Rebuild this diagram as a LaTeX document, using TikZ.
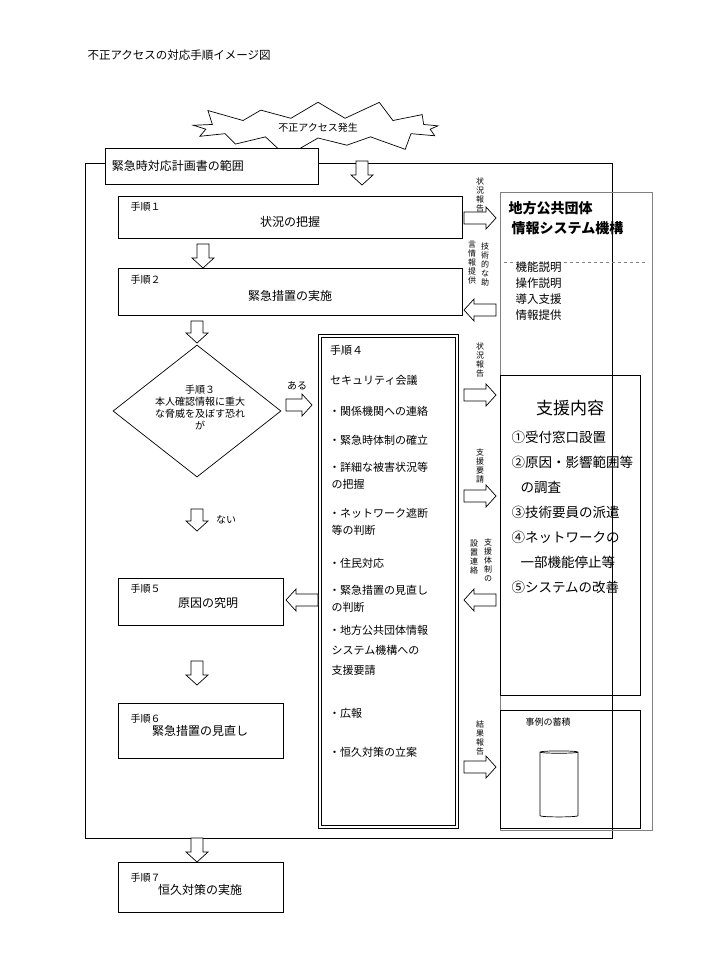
\documentclass[tikz,border=0pt]{standalone}
\usepackage{fontspec}
\setmainfont{Noto Sans CJK JP}
\usetikzlibrary{shapes.geometric,shapes.symbols}
\newcommand\barrow[5]{% name, x, y, angle, length
 \begin{scope}[shift={(#2,#3)},rotate=#4]
 \coordinate (#1) at (0,0);
 \draw[line width=0.7pt,fill=white] (-#5/2,-6) -- (#5/2-10,-6) -- (#5/2-10,-11) -- (#5/2,0) -- (#5/2-10,11) -- (#5/2-10,6) -- (-#5/2,6) -- cycle;
 \end{scope}}
\begin{document}
\begin{tikzpicture}[x=1pt,y=-1pt,
 box/.style={draw,line width=0.7pt},
 small/.style={font=\fontsize{10}{12}\selectfont},
 body/.style={font=\fontsize{12}{14}\selectfont},
 vt/.style={font=\fontsize{8}{9}\selectfont,align=center,inner sep=0pt},
 lst/.style={font=\fontsize{11}{17.5}\selectfont,anchor=west,align=left,inner sep=0pt}]
\useasboundingbox (0,0) rectangle (718,976);
\node[anchor=west,font=\fontsize{11.5}{13}\selectfont] (title) at (84,55) {不正アクセスの対応手順イメージ図};
% starburst
\node[starburst,draw,starburst points=13,starburst point height=22pt,minimum width=270pt,minimum height=64pt,fill=white,small,inner sep=0pt,line width=0.7pt] (burst) at (318,128) {不正アクセス発生};
% outer
\draw[box] (85,163) rectangle (612,838);
\node[box,fill=white,anchor=north west,minimum width=213pt,minimum height=36pt,text width=200pt,align=left,body] (scope) at (105,148) {緊急時対応計画書の範囲};
\barrow{a0}{362}{173}{-90}{24}
% step1
\node[box,anchor=north west,minimum width=344pt,minimum height=42pt] (s1) at (118,196) {};
\node[small,anchor=north west] (s1l) at (127,199) {手順１};
\node[body] (s1t) at (290,222) {状況の把握};
\barrow{a1}{203}{256}{-90}{24}
% step2
\node[box,anchor=north west,minimum width=344pt,minimum height=47pt] (s2) at (118,268) {};
\node[small,anchor=north west] (s2l) at (127,272) {手順２};
\node[body] (s2t) at (290,296) {緊急措置の実施};
\barrow{a2}{197}{332}{-90}{22}
% diamond
\node[diamond,draw,line width=0.7pt,minimum width=168pt,minimum height=132pt,inner sep=0pt] (d3) at (197,411) {};
\node[align=center,font=\fontsize{10}{12}\selectfont] (d3t) at (200,407) {手順３\\本人確認情報に重大\\な脅威を及ぼす恐れ\\が};
\node[small] (aru) at (297,386) {ある};
\barrow{a3}{299}{405}{0}{26}
\barrow{a4}{197}{520}{-90}{22}
\node[small] (nai) at (226,520) {ない};
% step4
\draw[line width=0.7pt] (318,334) rectangle (458,828);
\draw[line width=0.7pt] (321,337) rectangle (455,825);
\node[lst] (h4) at (330,350) {手順４};
\node[lst] (c4) at (330,380) {セキュリティ会議};
\node[lst] (i1) at (329,411) {・関係機関への連絡};
\node[lst] (i2) at (329,440) {・緊急時体制の確立};
\node[lst,anchor=north west] (i3) at (329,462) {・詳細な被害状況等\\ \ の把握};
\node[lst,anchor=north west] (i4) at (329,508) {・ネットワーク遮断\\ \ 等の判断};
\node[lst] (i5) at (329,563) {・住民対応};
\node[lst,anchor=north west] (i6) at (329,585) {・緊急措置の見直し\\ \ の判断};
\node[lst,anchor=north west,font=\fontsize{11}{20}\selectfont] (i7) at (329,625) {・地方公共団体情報\\ \ システム機構への\\ \ 支援要請};
\node[lst] (i8) at (329,713) {・広報};
\node[lst] (i9) at (329,752) {・恒久対策の立案};
% step5
\barrow{a5}{302}{600}{180}{32}
\node[box,anchor=north west,minimum width=165pt,minimum height=47pt] (s5) at (118,578) {};
\node[small,anchor=north west] (s5l) at (127,581) {手順５};
\node[body] (s5t) at (208,603) {原因の究明};
\barrow{a6}{197}{673}{-90}{24}
\node[box,anchor=north west,minimum width=165pt,minimum height=55pt] (s6) at (118,703) {};
\node[small,anchor=north west] (s6l) at (127,711) {手順６};
\node[body] (s6t) at (200,731) {緊急措置の見直し};
\barrow{a7}{197}{850}{-90}{24}
\node[box,anchor=north west,minimum width=165pt,minimum height=50pt] (s7) at (118,862) {};
\node[small,anchor=north west] (s7l) at (127,870) {手順７};
\node[body] (s7t) at (200,890) {恒久対策の実施};
% right panel
\draw[line width=0.5pt,gray] (500,192) rectangle (652,830);
\node[anchor=north west,align=left,font=\fontsize{14}{20}\bfseries\selectfont] (jlis) at (505,198) {地方公共団体\\\ 情報システム機構};
\draw[gray,dashed] (504,262) -- (648,262);
\node[anchor=north west,align=left,font=\fontsize{11.5}{16}\selectfont] (jfunc) at (512,258) {機能説明\\操作説明\\導入支援\\情報提供};
\node[box,anchor=north west,minimum width=140pt,minimum height=320pt] (sup) at (500,375) {};
\node[font=\fontsize{17}{20}\selectfont] (supt) at (570,408) {支援内容};
\node[anchor=north west,align=left,font=\fontsize{13.5}{25}\selectfont] (supl) at (508,428) {①受付窓口設置\\②原因・影響範囲等\\\ \ \ の調査\\③技術要員の派遣\\④ネットワークの\\\ \ \ 一部機能停止等\\⑤システムの改善};
\node[box,anchor=north west,minimum width=140pt,minimum height=118pt] (case) at (500,710) {};
\node[font=\fontsize{9}{11}\selectfont] (caset) at (548,722) {事例の蓄積};
\node[cylinder,draw,shape border rotate=90,aspect=0.35,minimum width=38pt,minimum height=66pt,line width=0.7pt] (db) at (559,785) {};
% side arrows
\barrow{r1}{480}{218}{0}{32}
\node[vt] (r1t) at (480,195) {状\\況\\報\\告};
\barrow{r2}{480}{310}{180}{32}
\node[vt] (r2ta) at (485,264) {技\\術\\的\\な\\助};
\node[vt] (r2tb) at (472,263) {言\\情\\報\\提\\供};
\barrow{r3}{480}{395}{0}{32}
\node[vt] (r3t) at (480,360) {状\\況\\報\\告};
\barrow{r4}{480}{496}{0}{32}
\node[vt] (r4t) at (480,466) {支\\援\\要\\請};
\barrow{r5}{480}{600}{180}{32}
\node[vt] (r5ta) at (488,560) {支\\援\\体\\制\\の};
\node[vt] (r5tb) at (474,557) {設\\置\\連\\絡};
\barrow{r6}{480}{767}{0}{32}
\node[vt] (r6t) at (480,738) {結\\果\\報\\告};
\end{tikzpicture}
\end{document}
